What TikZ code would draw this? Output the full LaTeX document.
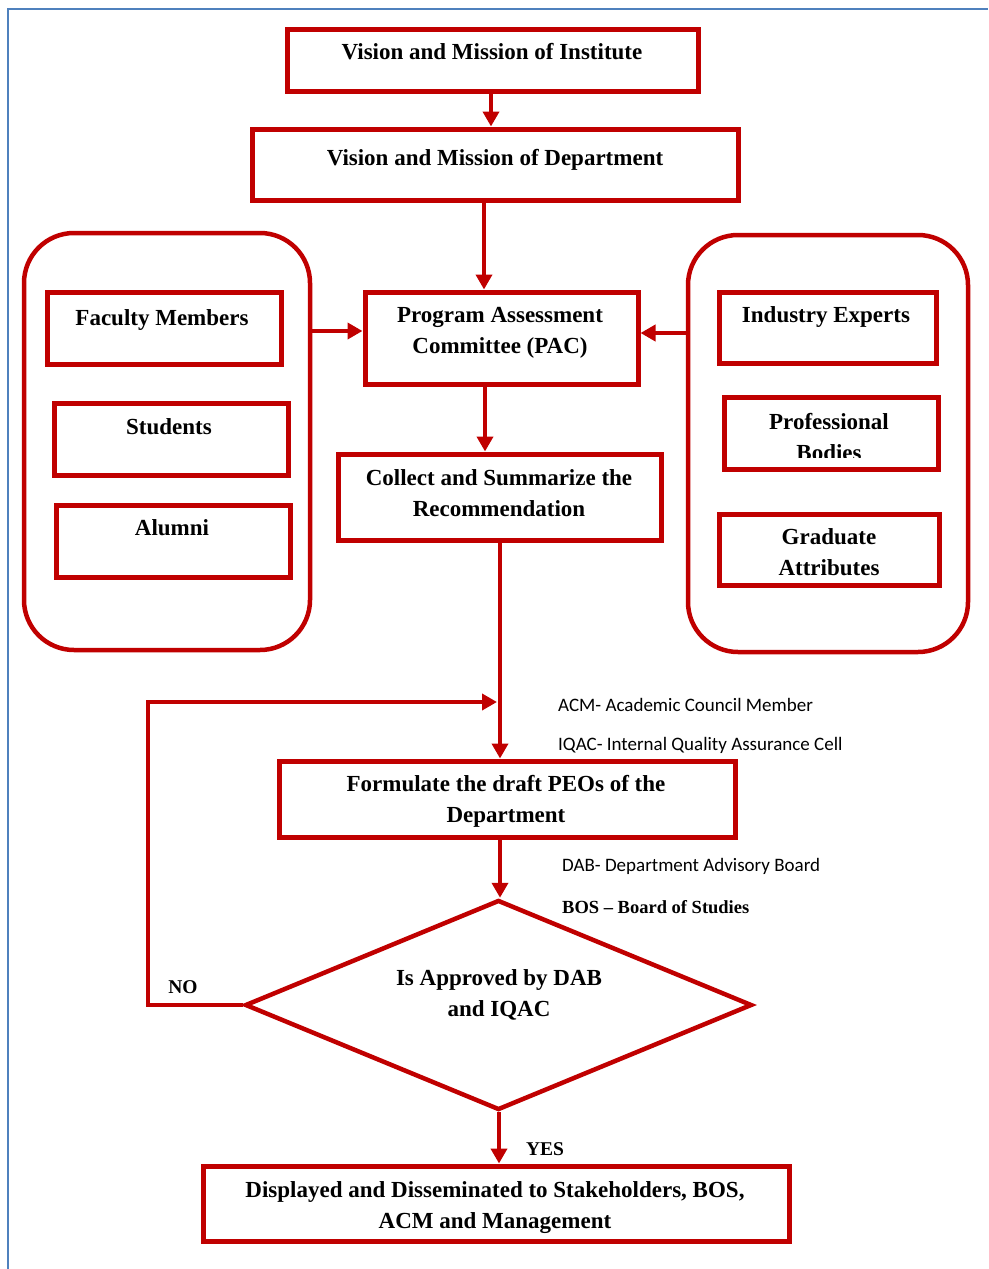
\documentclass[tikz,border=0pt]{standalone}
\usepackage{fontspec}
\setmainfont{Liberation Serif}
\newfontfamily\legendfont{Carlito}
\usetikzlibrary{arrows.meta,shapes.geometric}
\definecolor{boxred}{RGB}{192,0,0}
\definecolor{framebl}{RGB}{79,129,189}

% \mkbox{name}{center x}{center y}{width}{height}
\newcommand\mkbox[5]{\node[box, minimum width=#4pt, minimum height=#5pt] (#1) at (#2,#3) {};}

\begin{document}
\begin{tikzpicture}[x=1pt,y=-1pt,
  box/.style={draw=boxred, line width=5pt, rectangle, inner sep=0pt},
  group/.style={draw=boxred, line width=4.5pt, rectangle, rounded corners=50pt, inner sep=0pt},
  decision/.style={draw=boxred, line width=4.5pt, diamond, inner sep=0pt},
  txt/.style={font=\bfseries\fontsize{23}{31}\selectfont, align=center, inner sep=0pt, anchor=north},
  legend/.style={font=\legendfont\fontsize{19}{22}\selectfont, inner sep=0pt, anchor=base west},
  legendserif/.style={font=\bfseries\fontsize{18.5}{22}\selectfont, inner sep=0pt, anchor=base west},
  answer/.style={font=\bfseries\fontsize{19.5}{22}\selectfont, inner sep=0pt, anchor=base},
  flow/.style={draw=boxred, line width=4.5pt, -{Triangle[length=15pt,width=16pt]}},
  feed/.style={draw=boxred, line width=4.5pt, line join=miter}]

\useasboundingbox (0,0) rectangle (988,1269);

% page frame
\draw[framebl, line width=2pt] (8,1269) -- (8,9) -- (988,9);

% box captions
\node[txt] (vmi-t) at (492,43) {Vision and Mission of Institute};
\node[txt] (vmd-t) at (495,149) {Vision and Mission of Department};
\node[txt] (pac-t) at (500,307) {Program Assessment\\Committee (PAC)};
\node[txt] (fac-t) at (162,309) {Faculty Members};
\node[txt] (stu-t) at (169,418) {Students};
\node[txt] (alu-t) at (172,519) {Alumni};
\node[txt] (ind-t) at (826,306) {Industry Experts};
\begin{scope}
  % the second line runs past the inner margin of its box
  \clip (700,380) rectangle (960,457);
  \node[txt] (prof-t) at (829,413) {Professional\\Bodies};
\end{scope}
\node[txt] (grad-t) at (829,528) {Graduate\\Attributes};
\node[txt] (col-t) at (499,469) {Collect and Summarize the\\Recommendation};
\node[txt] (form-t) at (506,775) {Formulate the draft PEOs of the\\Department};
\node[txt] (dec-t) at (499,969) {Is Approved by DAB\\and IQAC};
\node[txt] (disp-t) at (495,1181) {Displayed and Disseminated to Stakeholders, BOS,\\ACM and Management};

% boxes
\mkbox{vmi}{492.5}{60}{411}{62}
\mkbox{vmd}{495}{164.5}{486}{71}
\mkbox{pac}{501.5}{338}{273}{92}
\node[group, minimum width=286pt, minimum height=417pt] (left) at (167,441.5) {};
\mkbox{fac}{164}{328}{234}{72}
\mkbox{stu}{171}{439}{234}{72}
\mkbox{alu}{173}{541}{234}{72}
\node[group, minimum width=280pt, minimum height=417pt] (right) at (828,443.5) {};
\mkbox{ind}{827.5}{327.5}{217}{71}
\mkbox{prof}{831}{433}{214}{72}
\mkbox{grad}{829}{549.5}{220}{71}
\mkbox{col}{499.5}{497}{323}{86}
\mkbox{form}{507}{799}{456}{76}
\node[decision, minimum width=507pt, minimum height=210pt] (dec) at (498.5,1005) {};
\mkbox{disp}{496}{1203.5}{586}{75}

% connectors
\coordinate (c1) at (491,0);
\coordinate (c2) at (484,0);
\coordinate (c3) at (485,0);
\coordinate (c4) at (500,0);
\coordinate (c5) at (499,0);
\coordinate (r1) at (0,331);
\coordinate (r2) at (0,333);
\draw[flow] (vmi.south -| c1) -- (vmd.north -| c1);
\draw[flow] (vmd.south -| c2) -- (pac.north -| c2);
\draw[flow] (left.east |- r1) -- (pac.west |- r1);
\draw[flow] (right.west |- r2) -- (pac.east |- r2);
\draw[flow] (pac.south -| c3) -- (col.north -| c3);
\draw[flow] (col.south -| c4) -- (form.north -| c4);
\draw[flow] (form.south -| c4) -- (dec.north -| c4);
\draw[flow] (dec.south -| c5) -- (disp.north -| c5);

% rejection loop
\coordinate (loopx) at (148,0);
\coordinate (loopin) at (497,702);
\draw[feed, -{Triangle[length=15pt,width=16pt]}] (dec.west) -- (dec.west -| loopx) -- (loopin -| loopx) -- (loopin);
\node[answer] (no) at (183,993) {NO};
\node[answer] (yes) at (545,1155) {YES};

% abbreviations
\node[legend] (acm) at (558,711) {ACM- Academic Council Member};
\node[legend] (iqac) at (558,750) {IQAC- Internal Quality Assurance Cell};
\node[legend] (dab) at (562,871) {DAB- Department Advisory Board};
\node[legendserif] (bos) at (562,913) {BOS -- Board of Studies};
\end{tikzpicture}
\end{document}
